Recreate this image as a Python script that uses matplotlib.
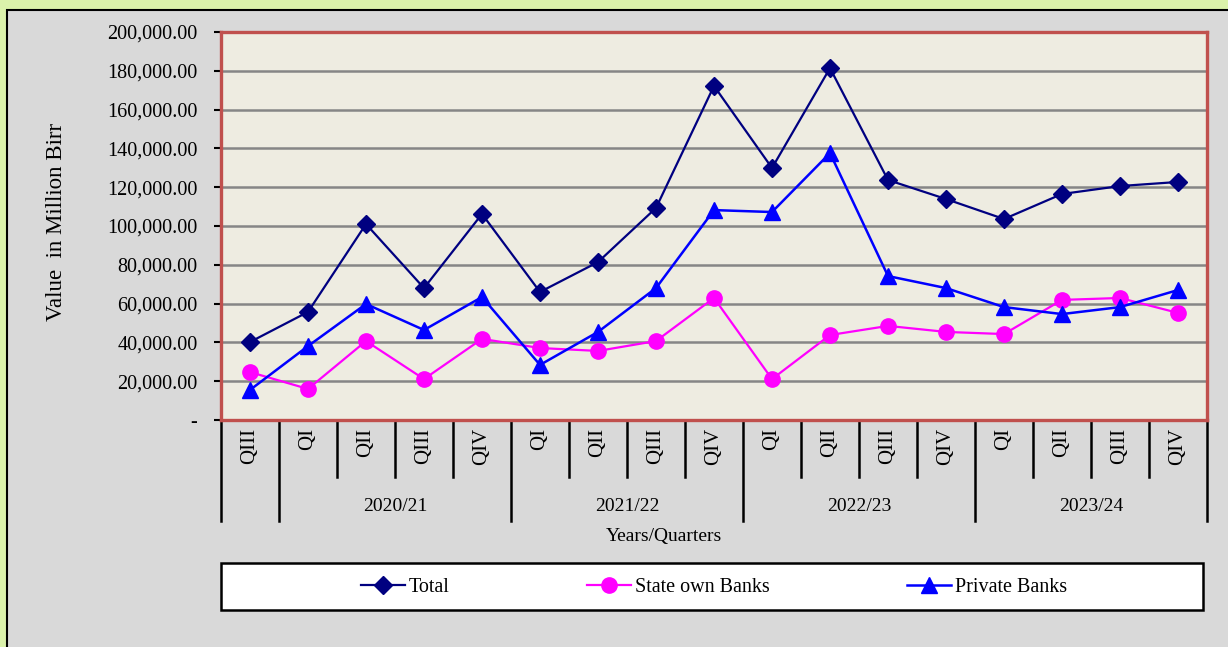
import matplotlib.pyplot as plt
import matplotlib.patches as mpatches
import matplotlib.transforms as mtrans
import numpy as np

plt.rcParams['font.family'] = ['Liberation Serif', 'DejaVu Serif']

# dati (milioni di Birr)
quarters = ['QIII', 'QI', 'QII', 'QIII', 'QIV', 'QI', 'QII', 'QIII', 'QIV',
            'QI', 'QII', 'QIII', 'QIV', 'QI', 'QII', 'QIII', 'QIV']
years = ['2020/21', '2021/22', '2022/23', '2023/24']
year_start = [1, 5, 9, 13]   # primo trimestre di ogni anno
total = [40200, 55700, 101000, 68000, 106200, 66000, 81400, 109300, 172200,
         129900, 181400, 123700, 113900, 103600, 116500, 120600, 122700]
state_banks = [24700, 16000, 40700, 21100, 41800, 37100, 35600, 40700, 62900,
               21100, 43800, 48500, 45400, 44300, 61900, 62900, 55200]
private_banks = [15500, 38100, 59800, 46400, 63400, 28400, 45400, 68000, 108200,
                 107200, 137600, 74200, 68000, 58200, 54600, 58200, 67000]

W, H = 1228, 647
fig = plt.figure(figsize=(W/100, H/100), dpi=100)
fig.patch.set_facecolor('#dbf2ab')

# pannello grigio
fig.patches.append(mpatches.Rectangle((7/W, -0.01), 1.01, 1 - 10/H + 0.01,
                   transform=fig.transFigure, facecolor='#d9d9d9',
                   edgecolor='black', lw=1.5, zorder=-10))

ax = fig.add_axes([221/W, 1 - 420/H, (1207-221)/W, (420-32)/H])
ax.set_facecolor('#eeece1')

x = np.arange(len(quarters))
ax.plot(x, total, color='#000080', lw=1.6, marker='D', ms=9.5,
        label='Total', zorder=3)
ax.plot(x, state_banks, color='#ff00ff', lw=1.6, marker='o', ms=11,
        label='State own Banks', zorder=3)
ax.plot(x, private_banks, color='#0000ff', lw=1.8, marker='^', ms=11.5,
        label='Private Banks', zorder=3)

ax.set_xlim(-0.5, len(quarters) - 0.5)
ax.set_ylim(0, 200000)
yt = np.arange(0, 200001, 20000)
ax.set_yticks(yt)
ax.set_yticklabels(['-' if v == 0 else f'{v:,.2f}' for v in yt], fontsize=14.5)
ax.tick_params(axis='y', length=5, width=1.5, pad=12, color='black')
ax.set_xticks([])
ax.yaxis.grid(True, color='#868686', lw=1.8)
ax.set_axisbelow(True)
for s in ax.spines.values():
    s.set_color('#c0504d')
    s.set_linewidth(2.4)

# asse x a due livelli
tr = mtrans.blended_transform_factory(ax.transData, ax.transAxes)
for i, q in enumerate(quarters):
    ax.text(i, -0.02, q, transform=tr, rotation=90, ha='center', va='top',
            fontsize=15)
long_sep = [-0.5, 0.5] + [s - 0.5 for s in year_start[1:]] + [len(quarters) - 0.5]
for b in np.arange(-0.5, len(quarters), 1.0):
    y_end = -0.26 if b in long_sep else -0.147
    ax.plot([b, b], [0, y_end], transform=tr, color='black', lw=1.8,
            clip_on=False)
for yr, s in zip(years, year_start):
    ax.text(s + 1.5, -0.224, yr, transform=tr, ha='center', va='center',
            fontsize=14)

fig.text(664/W, 1 - 537/H, 'Years/Quarters', ha='center', va='center',
         fontsize=14)
fig.text(57/W, 1 - 222/H, 'Value  in Million Birr', rotation=90,
         ha='center', va='center', fontsize=16.5)

# legenda
fig.patches.append(mpatches.Rectangle((221/W, 1 - 610/H), (1203-221)/W, 47/H,
                   transform=fig.transFigure, facecolor='white',
                   edgecolor='black', lw=1.8, zorder=1))
fig.legend(loc='center', bbox_to_anchor=(714/W, 1 - 587/H), ncol=3,
           frameon=False, fontsize=14.5, handlelength=2.2, handletextpad=0.2,
           columnspacing=6.8)

fig.savefig('out.png', dpi=100, facecolor=fig.get_facecolor())
